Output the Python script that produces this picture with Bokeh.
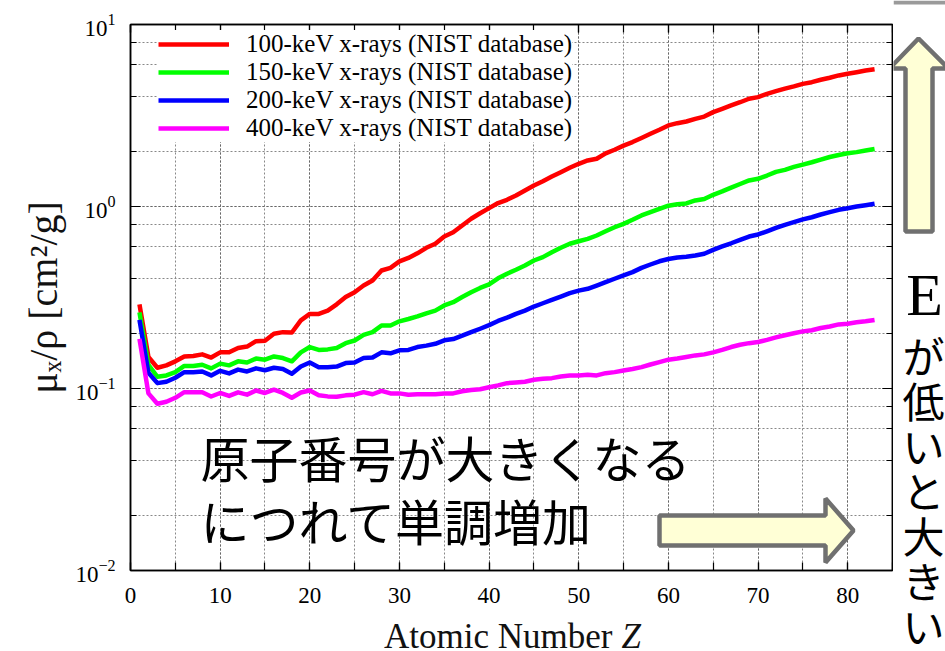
import math

from bokeh.embed import file_html
from bokeh.layouts import column, row
from bokeh.models import (CustomJSTickFormatter, Label, LinearAxis, LogAxis,
                          LogTicker, PolyAnnotation, Range1d, SingleIntervalTicker)
from bokeh.plotting import figure
from bokeh.resources import INLINE

# ---------------------------------------------------------------- data
atomic_number = list(range(1, 84))

mu_100kev = [
    0.290, 0.149, 0.130, 0.134, 0.141, 0.150, 0.151, 0.154, 0.148, 0.158,
    0.158, 0.167, 0.170, 0.182, 0.183, 0.200, 0.204, 0.203, 0.237, 0.257,
    0.257, 0.268, 0.290, 0.318, 0.338, 0.368, 0.392, 0.445, 0.460, 0.499,
    0.522, 0.553, 0.593, 0.624, 0.684, 0.722, 0.787, 0.856, 0.918, 0.980,
    1.045, 1.089, 1.149, 1.224, 1.304, 1.377, 1.461, 1.544, 1.632, 1.717,
    1.790, 1.830, 1.960, 2.050, 2.160, 2.260, 2.380, 2.510, 2.640, 2.790,
    2.870, 2.930, 3.030, 3.120, 3.300, 3.440, 3.590, 3.740, 3.910, 3.990,
    4.160, 4.300, 4.440, 4.570, 4.720, 4.820, 4.970, 5.100, 5.250, 5.360,
    5.470, 5.590, 5.680,
]
mu_150kev = [
    0.262, 0.135, 0.116, 0.118, 0.123, 0.133, 0.133, 0.135, 0.129, 0.137,
    0.134, 0.141, 0.139, 0.146, 0.144, 0.150, 0.147, 0.141, 0.158, 0.169,
    0.163, 0.164, 0.167, 0.1775, 0.1836, 0.197, 0.204, 0.222, 0.222, 0.234,
    0.241, 0.249, 0.259, 0.268, 0.286, 0.298, 0.318, 0.338, 0.357, 0.373,
    0.403, 0.427, 0.449, 0.474, 0.505, 0.527, 0.561, 0.593, 0.624, 0.644,
    0.664, 0.693, 0.731, 0.769, 0.803, 0.845, 0.893, 0.931, 0.971, 1.010,
    1.030, 1.040, 1.080, 1.100, 1.160, 1.210, 1.270, 1.330, 1.390, 1.420,
    1.480, 1.550, 1.590, 1.650, 1.700, 1.750, 1.810, 1.870, 1.920, 1.960,
    1.990, 2.030, 2.070,
]
mu_200kev = [
    0.238, 0.122, 0.107, 0.109, 0.1146, 0.123, 0.123, 0.124, 0.118, 0.125,
    0.121, 0.127, 0.124, 0.129, 0.126, 0.130, 0.128, 0.1205, 0.132, 0.139,
    0.131, 0.131, 0.132, 0.138, 0.139, 0.147, 0.148, 0.158, 0.156, 0.162,
    0.163, 0.169, 0.172, 0.176, 0.184, 0.187, 0.195, 0.204, 0.213, 0.223,
    0.235, 0.245, 0.257, 0.268, 0.282, 0.294, 0.307, 0.320, 0.334, 0.345,
    0.353, 0.368, 0.384, 0.401, 0.418, 0.436, 0.460, 0.480, 0.500, 0.515,
    0.525, 0.530, 0.538, 0.550, 0.578, 0.603, 0.628, 0.656, 0.684, 0.702,
    0.731, 0.763, 0.793, 0.820, 0.849, 0.873, 0.904, 0.931, 0.959, 0.979,
    1.000, 1.017, 1.035,
]
mu_400kev = [
    0.1875, 0.094, 0.0824, 0.0845, 0.0889, 0.0955, 0.0953, 0.0953, 0.0904, 0.0945,
    0.0910, 0.0953, 0.0925, 0.0975, 0.0945, 0.0985, 0.0945, 0.0889, 0.0950, 0.0975,
    0.0917, 0.0905, 0.0900, 0.0917, 0.0925, 0.0955, 0.0930, 0.0970, 0.0940, 0.0940,
    0.0925, 0.0930, 0.0930, 0.0930, 0.0940, 0.0940, 0.0966, 0.0980, 0.0990, 0.1016,
    0.1040, 0.1070, 0.1080, 0.1090, 0.1116, 0.1130, 0.1140, 0.1164, 0.1180, 0.1180,
    0.1190, 0.1180, 0.1214, 0.1230, 0.1256, 0.1280, 0.1310, 0.1355, 0.1397, 0.1440,
    0.1460, 0.1490, 0.1520, 0.1540, 0.1580, 0.1630, 0.1690, 0.1740, 0.1775, 0.1800,
    0.1850, 0.1910, 0.1960, 0.2010, 0.2060, 0.2090, 0.2150, 0.2190, 0.2250, 0.2270,
    0.2310, 0.2340, 0.2380,
]

series_values = [mu_100kev, mu_150kev, mu_200kev, mu_400kev]
series_labels = [
    "100-keV x-rays (NIST database)",
    "150-keV x-rays (NIST database)",
    "200-keV x-rays (NIST database)",
    "400-keV x-rays (NIST database)",
]
series_colors = ["#ff0000", "#00ff00", "#0000ff", "#ff00ff"]

x_label_main = "Atomic Number"
x_label_symbol = "Z"
y_label = "μₓ/ρ [cm²/g]"
note_lines = ["原子番号が大きくなる", "につれて単調増加"]
side_note = ["E", "が", "低", "い", "と", "大", "き", "い"]

# ---------------------------------------------------------------- layout
W, H = 945, 651
MAIN_W = 893                                # chart figure width
MAIN_H = 616                                # chart figure height
TITLE_H = H - MAIN_H                        # strip under the chart for the x title
FL, FR, FT, FB = 130, 892, 24, 570          # frame edges, page pixels
X_MIN, X_MAX = 0, 85
Y_MIN, Y_MAX = 1e-2, 1e1
LOG_MIN, LOG_MAX = math.log10(Y_MIN), math.log10(Y_MAX)

SERIF = "Liberation Serif"
CJK = "Noto Sans CJK JP"
ARROW_FILL = "#ffffd6"
ARROW_LINE = "#707070"
STRIP_COLOR = "#9a9a9a"


def px_x(px):
    """Page pixel column -> chart data x."""
    return X_MIN + (px - FL) * (X_MAX - X_MIN) / (FR - FL)


def px_y(py):
    """Page pixel row -> chart data y (log axis)."""
    return 10 ** (LOG_MAX - (py - FT) * (LOG_MAX - LOG_MIN) / (FB - FT))


def blank_figure(width, height, x0, x1, y_top, y_bottom):
    """Axis-less figure whose data coordinates are page pixels."""
    f = figure(width=width, height=height, title=None,
               x_range=Range1d(x0, x1), y_range=Range1d(y_bottom, y_top),
               x_axis_location=None, y_axis_location=None,
               output_backend="svg", toolbar_location=None,
               min_border=0, min_border_left=0, min_border_right=0,
               min_border_top=0, min_border_bottom=0)
    f.outline_line_color = None
    f.background_fill_color = "white"
    f.border_fill_color = "white"
    f.grid.visible = False
    return f


# ---------------------------------------------------------------- chart
p = figure(
    width=MAIN_W, height=MAIN_H, title=None,
    x_range=Range1d(X_MIN, X_MAX), y_range=Range1d(Y_MIN, Y_MAX),
    y_axis_type="log",
    output_backend="svg", toolbar_location=None,
    min_border_left=FL, min_border_right=MAIN_W - FR,
    min_border_top=FT, min_border_bottom=MAIN_H - FB,
)
p.background_fill_color = "white"
p.border_fill_color = "white"
p.outline_line_color = "black"
p.outline_line_width = 1.5

xa = p.xaxis[0]
xa.ticker = SingleIntervalTicker(interval=10, num_minor_ticks=2)
ya = p.yaxis[0]
ya.ticker = LogTicker()

blank = CustomJSTickFormatter(code="return ''")
top = LinearAxis(ticker=SingleIntervalTicker(interval=10, num_minor_ticks=2), formatter=blank)
right = LogAxis(ticker=LogTicker(), formatter=blank)
p.add_layout(top, "above")
p.add_layout(right, "right")

for ax in (xa, top):
    ax.major_tick_in = 8
    ax.major_tick_out = 0
    ax.minor_tick_in = 8
    ax.minor_tick_out = 0
for ax in (ya, right):
    ax.major_tick_in = 10
    ax.major_tick_out = 0
    ax.minor_tick_in = 6
    ax.minor_tick_out = 0
for ax in (xa, ya, top, right):
    ax.axis_line_color = "black"
    ax.axis_line_width = 1.5
    ax.major_tick_line_color = "black"
    ax.minor_tick_line_color = "black"
    ax.major_tick_line_width = 1.2
    ax.minor_tick_line_width = 1.2
    ax.major_label_text_font = SERIF
    ax.major_label_text_font_size = "23px"
    ax.major_label_text_color = "black"
for ax in (top, right):
    ax.major_label_standoff = 0
xa.major_label_standoff = 17
ya.major_label_standoff = 15

ya.axis_label = y_label
ya.axis_label_text_font = SERIF
ya.axis_label_text_font_size = "40px"
ya.axis_label_text_font_style = "normal"
ya.axis_label_text_color = "#111111"
ya.axis_label_standoff = 6

# dotted grid at every tick, major and minor
for g in (p.xgrid[0], p.ygrid[0]):
    g.grid_line_color = "#666666"
    g.grid_line_dash = "2 2"
    g.grid_line_width = 1
    g.minor_grid_line_color = "#888888"
    g.minor_grid_line_dash = "2 2"
    g.minor_grid_line_width = 1

for vals, lab, col in zip(series_values, series_labels, series_colors):
    p.line(atomic_number, vals, line_color=col, line_width=4.5,
           line_join="round", legend_label=lab)

leg = p.legend[0]
leg.location = (28, 428)
leg.border_line_color = None
leg.background_fill_color = "white"
leg.background_fill_alpha = 1
leg.glyph_width = 71
leg.glyph_height = 20
leg.label_height = 20
leg.spacing = 0
leg.padding = 2
leg.margin = 0
leg.label_standoff = 17
leg.label_text_font = SERIF
leg.label_text_font_size = "25px"
leg.label_text_color = "black"

# horizontal arrow and notes inside the frame
right_arrow = [(659, 515), (825, 515), (825, 498), (853, 530), (825, 562), (825, 545), (659, 545)]
p.add_layout(PolyAnnotation(
    xs=[px_x(a) for a, _ in right_arrow], ys=[px_y(b) for _, b in right_arrow],
    fill_color=ARROW_FILL, fill_alpha=1, line_color=ARROW_LINE, line_alpha=1,
    line_width=4.5, level="overlay"))

for i, line in enumerate(note_lines):
    p.add_layout(Label(x=px_x(200), y=px_y(456 + 63 * i), text=line, text_align="left",
                       text_baseline="middle", text_font=CJK, text_font_size="49px",
                       text_color="black"))

# ---------------------------------------------------------------- x title (italic symbol)
xtitle = blank_figure(MAIN_W, TITLE_H, 0, MAIN_W, MAIN_H, H)
xtitle.add_layout(Label(x=612, y=636, text=x_label_main, text_align="right",
                        text_baseline="middle", text_font=SERIF, text_font_size="35px",
                        text_color="#111111"))
xtitle.add_layout(Label(x=621, y=636, text=x_label_symbol, text_align="left",
                        text_baseline="middle", text_font=SERIF, text_font_size="35px",
                        text_font_style="italic", text_color="#111111"))

# ---------------------------------------------------------------- side note
side = blank_figure(W - MAIN_W, H, MAIN_W, W, 0, H)
side.patch([MAIN_W, W, W, MAIN_W], [0, 0, 4, 4], fill_color=STRIP_COLOR, line_color=None)
up_arrow = [(905, 231), (905, 68), (889, 68), (918, 38), (948, 68), (932, 68), (932, 231)]
side.add_layout(PolyAnnotation(
    xs=[a for a, _ in up_arrow], ys=[b for _, b in up_arrow],
    fill_color=ARROW_FILL, fill_alpha=1, line_color=ARROW_LINE, line_alpha=1,
    line_width=4.5, level="overlay"))
side.add_layout(Label(x=924, y=294, text=side_note[0], text_align="center",
                      text_baseline="middle", text_font=SERIF, text_font_size="60px",
                      text_color="black"))
for i, ch in enumerate(side_note[1:]):
    side.add_layout(Label(x=923, y=354 + 45 * i, text=ch, text_align="center",
                          text_baseline="middle", text_font=CJK, text_font_size="42px",
                          text_color="black"))

# each figure sits in its own box so their frames are not aligned to each other
layout = row(column(column(p), column(xtitle), spacing=0), side, spacing=0)
open("out.html", "w").write(file_html(layout, INLINE))
